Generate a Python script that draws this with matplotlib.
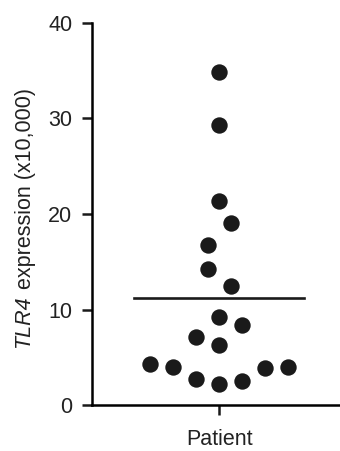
# %% imports

import numpy as np
import matplotlib
matplotlib.use("Agg")
import matplotlib.pyplot as plt


# %% data

expression = [34.84, 29.27, 21.39, 19.06, 16.76, 14.22, 12.47, 9.27, 8.40,
              7.11, 6.31, 4.29, 4.04, 2.72, 2.20, 2.58, 3.87, 4.04]
# swarm offsets, in half-marker steps
swarm_step = [0, 0, 0, 1, -1, -1, 1, 0, 2,
              -2, 0, -6, -4, -2, 0, 2, 4, 6]
group_label = "Patient"
gene = "TLR4"
ylabel_rest = " expression (x10,000)"
y_ticks = [0, 10, 20, 30, 40]

plt.rcParams.update({"font.family": "Liberation Sans", "font.size": 15.5})


# %% plot

fig = plt.figure(figsize=(3.4, 4.51), dpi=100)
ax = fig.add_axes([0.2697, 0.1013, 0.7303, 0.8484])

x = np.array(swarm_step, dtype=float)
ax.plot(x, expression, "o", color="#1a1a1a", markersize=11.8, markeredgewidth=0, clip_on=False)

mean_val = np.mean(expression)
ax.plot([-7.4, 7.4], [mean_val, mean_val], color="#1a1a1a", linewidth=1.9)

ax.set_xlim(-11.1, 10.5)
ax.set_ylim(0, 40)
ax.set_xticks([0])
ax.set_xticklabels([group_label])
ax.set_yticks(y_ticks)

ax.spines["top"].set_visible(False)
ax.spines["right"].set_visible(False)
ax.spines["left"].set_linewidth(1.8)
ax.spines["bottom"].set_linewidth(1.8)
ax.tick_params(axis="both", length=7, width=1.8, color="#1a1a1a", labelcolor="#222222")
ax.tick_params(axis="y", pad=7)
ax.tick_params(axis="x", pad=10)

# y label: italic gene name + plain rest, stacked along the rotated baseline
lab_x, lab_y0 = 0.0706, 0.2284
t1 = fig.text(lab_x, lab_y0, gene, rotation=90, style="italic", ha="center", va="bottom",
              color="#222222")
fig.canvas.draw()
h = t1.get_window_extent().height / fig.bbox.height
fig.text(lab_x + 0.004, lab_y0 + h, ylabel_rest, rotation=90, ha="center", va="bottom",
         color="#222222")

fig.savefig("out.png", dpi=100)
